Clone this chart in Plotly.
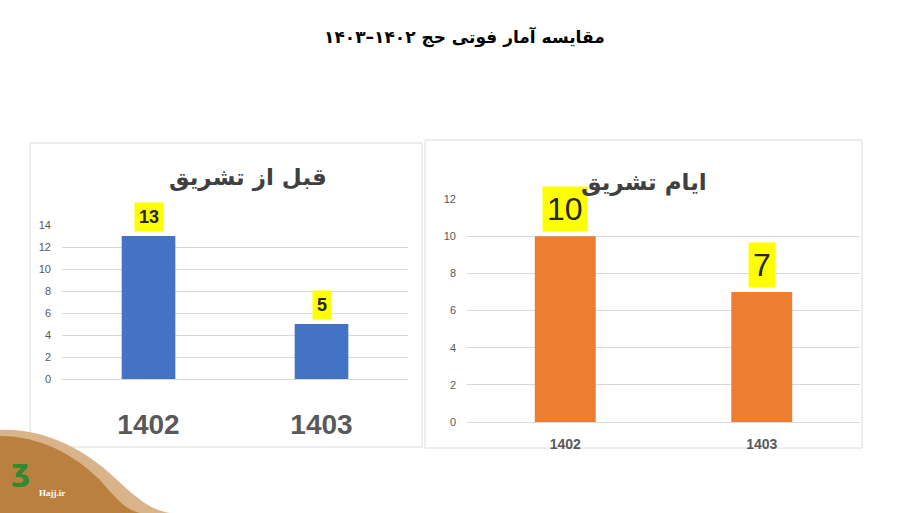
import plotly.graph_objects as go

W, H = 900, 513

# ---- data ----
years = ["1402", "1403"]
before_tashriq = [13, 5]
during_tashriq = [10, 7]
left_ticks = [0, 2, 4, 6, 8, 10, 12, 14]
right_ticks = [0, 2, 4, 6, 8, 10, 12]
main_title = "مقایسه آمار فوتی حج ۱۴۰۲–۱۴۰۳"
left_title = "قبل از تشریق"
right_title = "ایام تشریق"


def px(x):
    return x / W


def py(y):
    return 1 - y / H


NUM_FONT = "Liberation Sans, Arial, sans-serif"
AR_FONT = "DejaVu Sans, Noto Sans, sans-serif"
GRID = "#d9d9d9"
TICK = "#595959"

fig = go.Figure()
fig.add_trace(go.Bar(x=years, y=before_tashriq, marker_color="#4472C4",
                     marker_line_width=0, width=0.31, xaxis="x", yaxis="y",
                     hoverinfo="x+y"))
fig.add_trace(go.Bar(x=years, y=during_tashriq, marker_color="#ED7D31",
                     marker_line_width=0, width=0.31, xaxis="x2", yaxis="y2",
                     hoverinfo="x+y"))

annotations = []
for i, v in enumerate(before_tashriq):
    annotations.append(dict(x=i, y=v, xref="x", yref="y", text=f"<b>{v}</b>",
                            showarrow=False, yanchor="bottom", yshift=4,
                            bgcolor="#ffff00", borderpad=4,
                            font=dict(family=NUM_FONT, size=18, color="#262626")))
for i, v in enumerate(during_tashriq):
    annotations.append(dict(x=i, y=v, xref="x2", yref="y2", text=str(v),
                            showarrow=False, yanchor="bottom", yshift=4,
                            bgcolor="#ffff00", borderpad=4,
                            font=dict(family=NUM_FONT, size=32, color="#262626")))

annotations += [
    dict(x=px(464), y=py(37), xref="paper", yref="paper", text=f"<b>{main_title}</b>",
         showarrow=False, xanchor="center", yanchor="middle",
         font=dict(family=AR_FONT, size=17, color="#000000")),
    dict(x=px(248), y=py(177), xref="paper", yref="paper", text=f"<b>{left_title}</b>",
         showarrow=False, xanchor="center", yanchor="middle",
         font=dict(family=AR_FONT, size=23, color="#404040")),
    dict(x=px(644), y=py(182), xref="paper", yref="paper", text=f"<b>{right_title}</b>",
         showarrow=False, xanchor="center", yanchor="middle",
         font=dict(family=AR_FONT, size=23, color="#404040")),
    dict(x=px(52), y=py(493), xref="paper", yref="paper", text="<b>Hajj.ir</b>",
         showarrow=False, xanchor="center", yanchor="middle",
         font=dict(family="Liberation Serif, serif", size=9, color="#ffffff")),
    dict(x=px(20), y=py(470), xref="paper", yref="paper", text="<b>ʒ</b>",
         showarrow=False, xanchor="center", yanchor="middle",
         font=dict(family="DejaVu Sans, sans-serif", size=30, color="#2e8b2e")),
]


def rect(x0, y0, x1, y1, color):
    return dict(type="rect", xref="paper", yref="paper",
                x0=px(x0), y0=py(y1), x1=px(x1), y1=py(y0),
                line=dict(color=color, width=1), fillcolor="rgba(0,0,0,0)",
                layer="below")


def path_px(points):
    s = ""
    for cmd, coords in points:
        s += cmd + " " + " ".join(f"{px(coords[i]):.4f},{py(coords[i+1]):.4f}"
                                 for i in range(0, len(coords), 2)) + " "
    return s + "Z"


wave = path_px([("M", (0, 430)),
                ("C", (45, 428, 85, 450, 115, 478)),
                ("C", (135, 497, 150, 510, 170, 513)),
                ("L", (0, 513))])
wave2 = path_px([("M", (0, 436)),
                 ("C", (40, 436, 75, 455, 100, 480)),
                 ("C", (115, 497, 125, 510, 140, 513)),
                 ("L", (0, 513))])

shapes = [
    rect(30, 143, 422, 447, "#dcdcdc"),
    rect(425, 140, 862, 448, "#dcdcdc"),
    dict(type="path", xref="paper", yref="paper", path=wave,
         fillcolor="#d9b38a", line=dict(width=0), layer="below"),
    dict(type="path", xref="paper", yref="paper", path=wave2,
         fillcolor="#b9803f", line=dict(width=0), layer="below"),
]

fig.update_layout(
    width=W, height=H,
    margin=dict(l=0, r=0, t=0, b=0, autoexpand=False),
    paper_bgcolor="#ffffff", plot_bgcolor="rgba(0,0,0,0)",
    showlegend=False,
    annotations=annotations,
    shapes=shapes,
    xaxis=dict(domain=[px(62), px(408)], type="category", range=[-0.5, 1.5],
               showgrid=False, automargin=False,
               showline=False, ticks="", ticklabelstandoff=26,
               tickfont=dict(family=NUM_FONT, size=28, color=TICK, weight="bold"),
               fixedrange=True),
    yaxis=dict(domain=[py(379), py(225)], range=[0, 14], tickvals=left_ticks,
               automargin=False,
               showgrid=True, gridcolor=GRID, gridwidth=1, zeroline=True,
               zerolinecolor=GRID, zerolinewidth=1, showline=False, ticks="",
               ticklabelstandoff=10,
               tickfont=dict(family=NUM_FONT, size=11, color=TICK),
               fixedrange=True),
    xaxis2=dict(domain=[px(467), px(860)], type="category", range=[-0.5, 1.5],
                showgrid=False, automargin=False,
                showline=False, ticks="", ticklabelstandoff=12, anchor="y2",
                tickfont=dict(family=NUM_FONT, size=14, color=TICK, weight="bold"),
                fixedrange=True),
    yaxis2=dict(domain=[py(422), py(199)], range=[0, 12], tickvals=right_ticks,
                anchor="x2", automargin=False, showgrid=True, gridcolor=GRID,
                gridwidth=1, zeroline=True, zerolinecolor=GRID, zerolinewidth=1,
                showline=False, ticks="", ticklabelstandoff=10,
                tickfont=dict(family=NUM_FONT, size=11, color=TICK),
                fixedrange=True),
)

fig.write_html("out.html",
               config={"displayModeBar": False},
               post_script="document.body.style.margin='0';"
                           "document.body.style.overflow='hidden';")
